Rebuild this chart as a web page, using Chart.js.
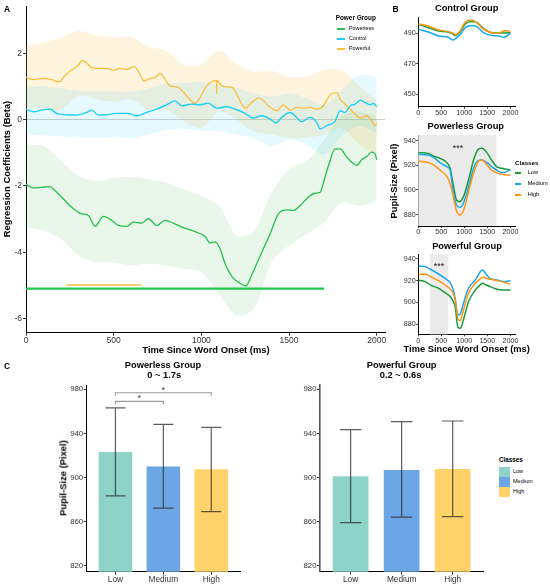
<!DOCTYPE html>
<html>
<head>
<meta charset="utf-8">
<script src="https://cdn.jsdelivr.net/npm/chart.js@4.4.1/dist/chart.umd.min.js"></script>
<style>
body { margin: 0; background: #fff; }
#wrap { position: relative; width: 550px; height: 586px; overflow: hidden; font-family: "Liberation Sans", Arial, sans-serif; }
canvas { position: absolute; }
.t { position: absolute; white-space: nowrap; line-height: 1; color: #000; }
.sw { position: absolute; }
</style>
</head>
<body>
<div id="wrap"></div>
<script>
/* ---------- panel A: regression coefficients ---------- */
const aTimeTicks = [0, 500, 1000, 1500, 2000];
const aBetaTicks = [-6, -4, -2, 0, 2];

const aPowerfulT = [0,40,100,145,190,220,260,300,320,345,375,420,460,500,535,575,618,645,673,707,736,764,793,821,860,894,932,964,992,1030,1086,1087,1088,1116,1154,1183,1211,1249,1287,1325,1354,1382,1430,1468,1506,1544,1582,1620,1658,1696,1734,1772,1791,1829,1867,1905,1943,1971,1990,2000];
const aPowerful = [1.29,1.21,1.25,1.21,1.14,1.32,1.50,1.65,1.79,1.72,1.57,1.55,1.55,1.49,1.55,1.52,1.61,1.42,1.17,1.25,1.27,1.40,1.22,1.02,0.99,0.85,0.62,0.49,0.67,1.02,1.19,0.78,1.19,1.02,0.99,0.95,0.67,0.35,0.52,0.65,0.57,0.42,0.27,0.45,0.29,0.37,0.35,0.37,0.32,0.42,0.75,0.82,0.62,0.42,0.22,0.05,0.12,-0.03,-0.18,-0.13];

const aControlT = [0,42,89,137,175,232,289,346,375,413,460,517,584,631,688,745,802,850,888,945,992,1040,1087,1144,1202,1249,1296,1344,1392,1426,1458,1506,1534,1572,1620,1658,1677,1715,1762,1791,1820,1848,1877,1905,1934,1962,1981,2000];
const aControl = [0.32,0.24,0.29,0.32,0.19,0.15,0.14,0.22,0.29,0.14,0.15,0.19,0.19,0.12,0.22,0.32,0.45,0.57,0.42,0.47,0.45,0.50,0.35,0.39,0.30,0.19,0.05,0.12,0.02,-0.10,0.07,0.22,0.12,-0.06,0.07,-0.08,-0.28,-0.18,-0.05,0.27,0.22,0.42,0.47,0.59,0.52,0.45,0.49,0.39];

const aPowerlessT = [0,42,89,133,175,222,270,317,356,394,441,489,527,574,612,660,698,745,793,840,897,945,983,1021,1049,1078,1106,1135,1163,1183,1221,1253,1287,1316,1354,1392,1439,1487,1525,1563,1610,1648,1677,1705,1734,1762,1791,1829,1867,1886,1914,1943,1971,1990,2000];
const aPowerless = [-1.95,-2.06,-2.04,-2.02,-2.19,-2.44,-2.69,-2.84,-2.89,-3.22,-2.92,-3.04,-3.19,-3.22,-3.09,-3.12,-2.99,-3.19,-3.04,-3.12,-3.26,-3.34,-3.42,-3.52,-3.72,-3.69,-3.89,-4.34,-4.64,-4.79,-4.94,-5.02,-4.69,-4.34,-3.89,-3.44,-2.84,-2.72,-2.74,-2.59,-2.34,-2.22,-2.19,-1.73,-1.23,-0.88,-0.88,-1.13,-1.33,-1.38,-1.21,-1.11,-0.98,-1.03,-1.21];

// confidence bands, read every 100 ms
const aBandT = [0,100,200,300,400,500,600,700,800,900,1000,1100,1200,1300,1400,1500,1600,1700,1800,1900,2000];
const aPowerfulHi = [2.23,2.32,2.48,2.68,2.55,2.49,2.50,2.20,2.08,1.65,1.67,2.08,1.68,1.45,1.48,1.30,1.30,1.50,1.50,1.02,0.57];
const aPowerfulLo = [0.35,0.30,0.30,0.72,0.62,0.55,0.62,0.30,0.30,-0.05,-0.25,0.25,0.00,-0.35,-0.45,-0.55,-0.55,-0.45,-0.25,-0.75,-1.10];
const aControlHi = [1.00,1.00,0.95,0.87,0.85,0.85,0.85,0.95,1.10,1.10,1.15,1.05,0.95,0.80,0.70,0.80,0.65,0.45,0.90,1.35,1.30];
const aControlLo = [-0.43,-0.48,-0.50,-0.53,-0.55,-0.52,-0.55,-0.45,-0.30,-0.28,-0.33,-0.35,-0.45,-0.55,-0.80,-0.60,-0.75,-1.05,-0.50,-0.20,-0.40];
const aPowerlessHi = [-0.75,-0.80,-1.25,-1.70,-1.85,-1.75,-1.72,-1.80,-1.90,-2.10,-2.30,-2.60,-3.50,-3.35,-2.20,-1.50,-1.25,-0.60,0.10,0.25,0.10];
const aPowerlessLo = [-3.24,-3.35,-3.60,-4.10,-4.30,-4.30,-4.40,-4.35,-4.40,-4.50,-4.60,-5.25,-5.90,-5.70,-4.30,-3.80,-3.45,-3.10,-2.50,-2.60,-2.45];

// significant clusters (start, end in ms) and where they are drawn
const sigPowerlessSpan = [0, 1700];
const sigPowerlessLevel = -5.10;
const sigPowerfulSpan = [232, 654];
const sigPowerfulLevel = -4.99;

const powerGroups = ["Powerless", "Control", "Powerful"];

/* ---------- panel B: pupil time courses ---------- */
const bTimeTicks = [0, 500, 1000, 1500, 2000];
const ctrlTicks = [450, 470, 490];
const pupilTicks = [880, 900, 920, 940];
const classes = ["Low", "Medium", "High"];

const ctrlT = [0,220,440,650,760,800,910,1020,1160,1270,1420,1600,1750,1860,2000];
const ctrlLow = [495.9,493.7,491.5,490.9,489.3,488.5,491.1,496.1,497.7,497.2,493.1,490.4,490.2,490.2,490.4];
const ctrlMedium = [492.6,490.9,488.3,487.4,485.6,486.3,489.3,493.7,495.2,494.4,490.4,488.5,488.3,487.4,490.0];
const ctrlHigh = [496.1,494.8,492.2,491.1,490.0,489.0,491.7,497.4,498.7,497.0,492.6,490.4,490.0,491.7,491.5];

const plessT = [0,220,330,470,620,690,760,830,900,980,1090,1200,1300,1380,1490,1590,1700,1810,1920,2000];
const plessLow = [930.3,929.7,927.6,925.7,922.2,917.6,904.1,891.9,890.5,894.6,908.1,924.3,933.0,933.8,930.3,924.3,918.9,917.6,916.8,916.2];
const plessMedium = [928.9,928.4,926.5,922.2,918.9,916.2,898.6,887.8,885.9,889.2,902.7,917.6,923.8,924.3,922.2,918.9,916.2,914.1,914.9,916.8];
const plessHigh = [923.5,922.2,920.3,916.2,910.8,905.4,894.6,883.2,879.7,883.2,898.6,913.5,923.0,924.3,920.3,916.2,914.1,912.7,912.2,912.2];
const plessWindow = [0, 1700];

const pfulT = [0,150,290,440,580,690,760,800,860,910,980,1090,1240,1350,1400,1460,1560,1710,1860,2000];
const pfulLow = [920.7,919.2,915.5,913.1,909.1,905.5,901.0,896.2,877.3,876.3,884.0,900.8,911.5,916.5,917.7,916.5,914.6,912.1,911.5,911.5];
const pfulMedium = [933.6,933.0,929.9,926.2,922.2,918.3,911.5,903.9,888.6,889.5,899.3,913.1,920.7,928.4,929.9,926.8,922.2,920.7,919.2,920.1];
const pfulHigh = [925.9,925.9,923.2,920.1,916.1,912.5,908.0,902.4,884.9,883.4,893.2,908.5,917.7,922.0,923.2,922.5,921.3,920.1,918.6,916.7];
const pfulWindow = [250, 650];

/* ---------- panel C: mean pupil size ---------- */
const barTicks = [820, 860, 900, 940, 980];
const cPowerlessMean = [923.3, 910.0, 907.6];
const cPowerlessLo = [883.4, 872.3, 869.2];
const cPowerlessHi = [963.1, 948.3, 945.6];
const cPowerfulMean = [901.3, 907.0, 907.9];
const cPowerfulLo = [859.3, 864.2, 864.7];
const cPowerfulHi = [943.4, 950.7, 951.3];
const cPairs = [[1, 2], [1, 3]];
const cPairLevels = [969.1, 976.9];
const cPairMarks = ["*", "*"];

/* ---------- styles ---------- */
const FONT = '"Liberation Sans", Arial, sans-serif';
Chart.defaults.font.family = FONT;
Chart.defaults.animation = false;

const aColors = { Powerless: "#25c04c", Control: "#1fcff5", Powerful: "#fbbd3d" };
const aBands = { Powerless: "rgba(40,180,60,0.10)", Control: "rgba(0,200,255,0.10)", Powerful: "rgba(255,190,60,0.17)" };
const bColors = { Low: "#1b9b3a", Medium: "#18a8ec", High: "#ff9414" };
const cColors = ["#8dd3c7", "#6ca6e4", "#ffd36a"];

const wrap = document.getElementById("wrap");

function text(str, x, y, size, o = {}) {
  const d = document.createElement("div");
  d.className = "t";
  d.textContent = str;
  d.style.left = x + "px";
  d.style.top = y + "px";
  d.style.fontSize = size + "px";
  if (o.bold) d.style.fontWeight = "bold";
  if (o.color) d.style.color = o.color;
  const tx = o.left ? "0" : "-50%";
  d.style.transform = "translate(" + tx + ",-50%)" + (o.rot ? " rotate(-90deg)" : "");
  wrap.appendChild(d);
}

function swatch(x, y, w, h, color) {
  const d = document.createElement("div");
  d.className = "sw";
  d.style.left = Math.round(x) + "px"; d.style.top = Math.round(y) + "px";
  d.style.width = Math.round(w) + "px"; d.style.height = Math.round(h) + "px";
  d.style.background = color;
  wrap.appendChild(d);
}

// canvas whose chart area lands on (L,T)-(R,B)
function mount(L, T, R, B, yw, xh, pt) {
  const cl = Math.floor(L - yw), ct = Math.floor(T - pt);
  const cw = Math.ceil(R + 12) - cl, ch = Math.ceil(B + xh) - ct;
  const c = document.createElement("canvas");
  c.width = cw; c.height = ch;
  c.style.left = cl + "px"; c.style.top = ct + "px";
  c.style.width = cw + "px"; c.style.height = ch + "px";
  wrap.appendChild(c);
  return { canvas: c, yw: L - cl, xh: ct + ch - B, pad: { top: T - ct, right: cl + cw - R, left: 0, bottom: 0 } };
}

function axis(o) {
  return {
    type: "linear", min: o.min, max: o.max, offset: false,
    afterBuildTicks: s => { s.ticks = o.ticks.map(v => ({ value: v })); },
    afterFit: s => { if (o.w != null) s.width = o.w; if (o.h != null) s.height = o.h; },
    ticks: { font: { size: o.font }, color: "#333", padding: o.pad, autoSkip: false, maxRotation: 0, callback: o.cb },
    grid: { offset: false, drawOnChartArea: !!o.gridColor, color: o.gridColor || "#000", tickLength: o.tl, tickColor: "#333", tickWidth: 1 },
    border: { display: true, color: o.borderColor || "#000", width: o.bw || 1 }
  };
}

const xy = (ts, vs) => ts.map((t, i) => ({ x: t, y: vs[i] }));

function lineSet(ts, vs, color, w) {
  return { data: xy(ts, vs), borderColor: color, borderWidth: w, pointRadius: 0, fill: false, cubicInterpolationMode: "monotone" };
}
function bandSets(ts, hi, lo, color) {
  return [
    { data: xy(ts, hi), borderWidth: 0, borderColor: "rgba(0,0,0,0)", pointRadius: 0, fill: false, tension: 0.3 },
    { data: xy(ts, lo), borderWidth: 0, borderColor: "rgba(0,0,0,0)", pointRadius: 0, fill: "-1", backgroundColor: color, tension: 0.3 }
  ];
}

/* ---------- panel A ---------- */
{
  const m = mount(26, 5, 385, 332.7, 26, 14, 5);
  new Chart(m.canvas, {
    type: "line",
    data: {
      datasets: [
        { data: xy(sigPowerlessSpan, sigPowerlessSpan.map(() => sigPowerlessLevel)), borderColor: "#1fc84c", borderWidth: 2.4, pointRadius: 0 },
        { data: xy(sigPowerfulSpan, sigPowerfulSpan.map(() => sigPowerfulLevel)), borderColor: aColors.Powerful, borderWidth: 1.6, pointRadius: 0 },
        lineSet(aPowerlessT, aPowerless, aColors.Powerless, 1.3),
        lineSet(aControlT, aControl, aColors.Control, 1.4),
        lineSet(aPowerfulT, aPowerful, aColors.Powerful, 1.3),
        ...bandSets(aBandT, aPowerlessHi, aPowerlessLo, aBands.Powerless),
        ...bandSets(aBandT, aControlHi, aControlLo, aBands.Control),
        ...bandSets(aBandT, aPowerfulHi, aPowerfulLo, aBands.Powerful)
      ]
    },
    options: {
      responsive: false,
      layout: { padding: m.pad },
      plugins: { legend: { display: false }, tooltip: { enabled: false } },
      scales: {
        x: axis({ min: 0, max: 2047, ticks: aTimeTicks, font: 8.5, pad: 0, tl: 3, h: m.xh }),
        y: axis({ min: -6.43, max: 3.43, ticks: aBetaTicks, font: 8.5, pad: 1, tl: 3, w: m.yw,
                  gridColor: c => (c.tick && c.tick.value === 0 ? "#d0d0d0" : "rgba(0,0,0,0)") })
      }
    }
  });
}
text("A", 4, 9, 8.5, { bold: true, left: true });
text("Regression Coefficients (Beta)", 7, 168.7, 9.4, { bold: true, rot: true });
text("Time Since Word Onset (ms)", 206, 350, 9.4, { bold: true });
text("Power Group", 335.7, 17.7, 6.4, { bold: true, left: true });
powerGroups.forEach((g, i) => {
  const y = 29 + i * 10.2;
  swatch(337, y - 1, 8, 2, aColors[g]);
  text(g, 349, y, 5.4, { left: true });
});

/* ---------- panel B ---------- */
const sigWindow = {
  id: "sigWindow",
  beforeDatasetsDraw(chart, args, opts) {
    if (!opts.range) return;
    const { ctx, chartArea: a, scales: { x, y } } = chart;
    const x0 = x.getPixelForValue(opts.range[0]), x1 = x.getPixelForValue(opts.range[1]);
    ctx.save();
    ctx.fillStyle = "#ebebeb";
    ctx.fillRect(x0, a.top, x1 - x0, a.bottom - a.top);
    ctx.fillStyle = "#222";
    ctx.font = "9px " + FONT;
    ctx.textAlign = "center";
    ctx.textBaseline = "middle";
    ctx.fillText(opts.mark, x.getPixelForValue(opts.markAt[0]), y.getPixelForValue(opts.markAt[1]));
    ctx.restore();
  }
};

function pupilChart(box, yMin, yMax, yTicks, ts, low, med, high, win) {
  const m = mount(box[0], box[1], box[2], box[3], 24, 10, 8);
  new Chart(m.canvas, {
    type: "line",
    data: {
      datasets: [
        lineSet(ts, low, bColors.Low, 1.5),
        lineSet(ts, med, bColors.Medium, 1.5),
        lineSet(ts, high, bColors.High, 1.5)
      ].reverse()
    },
    plugins: [sigWindow],
    options: {
      responsive: false,
      layout: { padding: m.pad },
      plugins: { legend: { display: false }, tooltip: { enabled: false }, sigWindow: win || {} },
      scales: {
        x: axis({ min: 0, max: 2100, ticks: bTimeTicks, font: 7.2, pad: 0, tl: 2, h: m.xh }),
        y: axis({ min: yMin, max: yMax, ticks: yTicks, font: 7.2, pad: 0.5, tl: 2, w: m.yw })
      }
    }
  });
}

pupilChart([418.3, 17.3, 515, 106.7], 441.9, 500.5, ctrlTicks, ctrlT, ctrlLow, ctrlMedium, ctrlHigh, null);
pupilChart([418.3, 135, 515, 226], 870.8, 944.6, pupilTicks, plessT, plessLow, plessMedium, plessHigh,
  { range: plessWindow, mark: "***", markAt: [860, 934] });
pupilChart([418.3, 254.3, 515, 334.3], 870.8, 944.3, pupilTicks, pfulT, pfulLow, pfulMedium, pfulHigh,
  { range: pfulWindow, mark: "***", markAt: [450, 933.5] });

text("B", 392.5, 8.5, 8.5, { bold: true, left: true });
text("Control Group", 466.7, 9.3, 9.3, { bold: true });
text("Powerless Group", 465.8, 126.7, 9.3, { bold: true });
text("Powerful Group", 467, 246.7, 9.3, { bold: true });
text("Pupil-Size (Pixel)", 395, 180.7, 9.3, { bold: true, rot: true });
text("Time Since Word Onset (ms)", 466.7, 350, 9.3, { bold: true });
text("Classes", 515, 162.7, 6.2, { bold: true, left: true });
classes.forEach((c, i) => {
  const y = 173.3 + i * 10.7;
  swatch(515, y - 1, 6, 2, bColors[c]);
  text(c, 527.7, y, 5.6, { left: true });
});

/* ---------- panel C ---------- */
const errorBars = {
  id: "errorBars",
  afterDatasetsDraw(chart, args, opts) {
    const { ctx, scales: { x, y } } = chart;
    const half = x.getPixelForValue(1 + opts.cap / 2) - x.getPixelForValue(1);
    ctx.save();
    ctx.lineWidth = 1.2;
    ctx.strokeStyle = "rgba(40,40,40,0.75)";
    opts.lo.forEach((lo, i) => {
      const cx = x.getPixelForValue(i + 1);
      const yl = y.getPixelForValue(lo), yh = y.getPixelForValue(opts.hi[i]);
      ctx.beginPath();
      ctx.moveTo(cx, yl); ctx.lineTo(cx, yh);
      ctx.moveTo(cx - half, yl); ctx.lineTo(cx + half, yl);
      ctx.moveTo(cx - half, yh); ctx.lineTo(cx + half, yh);
      ctx.stroke();
    });
    (opts.pairs || []).forEach((p, i) => {
      const xa = x.getPixelForValue(p[0]), xb = x.getPixelForValue(p[1]);
      const yb = y.getPixelForValue(opts.levels[i]);
      ctx.strokeStyle = "#9a9a9a";
      ctx.beginPath();
      ctx.moveTo(xa, yb + 3); ctx.lineTo(xa, yb); ctx.lineTo(xb, yb); ctx.lineTo(xb, yb + 3);
      ctx.stroke();
      ctx.fillStyle = "#333";
      ctx.font = "8.5px " + FONT;
      ctx.textAlign = "center";
      ctx.textBaseline = "middle";
      ctx.fillText(opts.marks[i], (xa + xb) / 2, yb - 2.5);
    });
    ctx.restore();
  }
};

function barChart(L, R, means, lo, hi, extra, borderColor, bw) {
  const m = mount(L, 385, R, 571.7, 24, 14, 8);
  new Chart(m.canvas, {
    type: "bar",
    data: {
      datasets: [{
        data: means.map((v, i) => ({ x: i + 1, y: v })),
        backgroundColor: cColors,
        barPercentage: 0.7,
        categoryPercentage: 1
      }]
    },
    plugins: [errorBars],
    options: {
      responsive: false,
      layout: { padding: m.pad },
      plugins: {
        legend: { display: false }, tooltip: { enabled: false },
        errorBars: Object.assign({ lo: lo, hi: hi, cap: 0.42 }, extra)
      },
      scales: {
        x: axis({ min: 0.4, max: 3.6, ticks: [1, 2, 3], font: 8.3, pad: 0, tl: 3, h: m.xh,
                  cb: v => classes[Math.round(v) - 1] }),
        y: axis({ min: 814.8, max: 983.9, ticks: barTicks, font: 7.8, pad: 0.5, tl: 3, w: m.yw,
                  borderColor: borderColor, bw: bw })
      }
    }
  });
}

barChart(86.7, 240, cPowerlessMean, cPowerlessLo, cPowerlessHi,
  { pairs: cPairs, levels: cPairLevels, marks: cPairMarks }, "#000", 1);
barChart(320, 483.3, cPowerfulMean, cPowerfulLo, cPowerfulHi, {}, "#555", 1.6);

text("C", 4, 365.7, 8.5, { bold: true, left: true });
text("Powerless Group", 163, 365.7, 9.3, { bold: true });
text("0 ~ 1.7s", 164.2, 375.9, 9.3, { bold: true });
text("Powerful Group", 401.7, 365.7, 9.3, { bold: true });
text("0.2 ~ 0.6s", 400.5, 375.9, 9.3, { bold: true });
text("Pupil-Size (Pixel)", 63.3, 478.3, 9.4, { bold: true, rot: true });
text("Classes", 499, 460, 6.3, { bold: true, left: true });
classes.forEach((c, i) => {
  const y = 472 + i * 10.2;
  swatch(499.3, y - 5, 10.7, 10, cColors[i]);
  text(c, 513, y, 5.5, { left: true });
});
</script>
</body>
</html>
